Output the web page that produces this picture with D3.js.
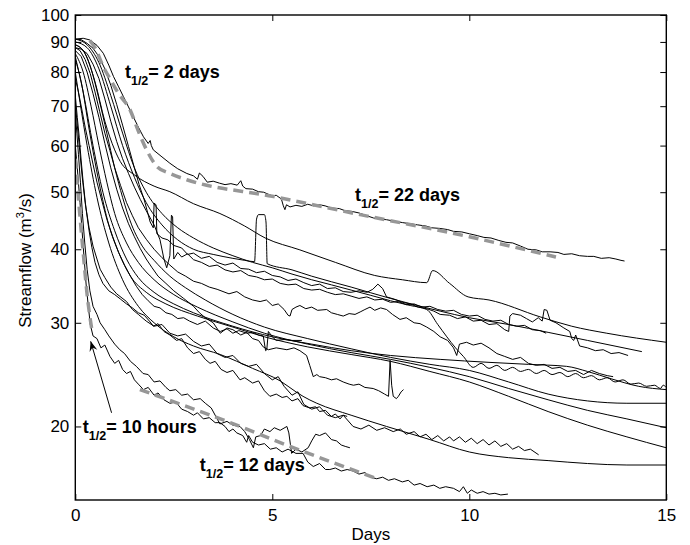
<!DOCTYPE html>
<html>
<head>
<meta charset="utf-8">
<script src="https://cdn.jsdelivr.net/npm/d3@7"></script>
<style>
  body { margin: 0; background: #fff; }
  svg { display: block; }
  text { font-family: "Liberation Sans", Arial, Helvetica, sans-serif; }
</style>
</head>
<body>
<svg id="chart" width="690" height="545"></svg>
<script>
// Axis ticks
const xTickValues = [0, 5, 10, 15];
const yTickValues = [20, 30, 40, 50, 60, 70, 80, 90, 100];

// Recession hydrographs: [day, streamflow m3/s]
const recA = [[0,91],[0.2,91.3],[0.37,90.7],[0.55,88.8],[0.71,86.1],[0.85,82.2],[0.97,78.6],[1.1,75.5],[1.22,72.7],[1.35,69.8],[1.47,67.2],[1.6,64.5],[1.73,62.1],[1.85,60.5],[1.9,61.2],[1.93,60.0],[1.98,59.0],[2.2,57.4],[2.4,56.0],[2.6,54.8],[2.83,53.8],[3.0,53.3],[3.1,52.6],[3.15,53.9],[3.24,53.2],[3.35,52.0],[3.5,52.2],[3.66,51.8],[3.8,51.5],[3.95,51.7],[4.11,51.4],[4.2,52.3],[4.25,51.2],[4.33,50.7],[4.5,50.6],[4.65,50.1],[4.78,50.0],[4.9,49.6],[5.0,49.3],[5.1,49.4],[5.23,48.7],[5.28,47.4],[5.32,46.7],[5.36,47.6],[5.45,47.2],[5.6,47.5],[5.75,47.3],[5.9,47.7],[6.05,47.4],[6.2,47.6],[6.34,47.4],[6.5,47.0],[6.7,46.9],[6.85,46.5],[7.01,46.4],[7.2,46.1],[7.4,45.6],[7.57,45.2],[7.75,45.0],[7.9,44.9],[8.13,44.6],[8.3,44.4],[8.5,44.2],[8.69,44.0],[8.9,43.8],[9.05,43.5],[9.25,43.4],[9.45,43.2],[9.6,42.9],[9.81,42.8],[10.0,42.5],[10.2,42.2],[10.37,41.9],[10.55,41.8],[10.75,41.4],[10.93,41.1],[11.1,41.0],[11.3,40.5],[11.49,40.0],[11.7,39.9],[11.85,39.6],[12.05,39.6],[12.25,39.5],[12.4,39.2],[12.6,39.3],[12.8,39.0],[13.0,38.9],[13.16,38.9],[13.35,38.6],[13.55,38.7],[13.72,38.5],[13.85,38.3],[13.94,38.2]];
const recB = [[0,89],[0.25,86],[0.5,77],[0.75,66],[1.0,59],[1.14,56.4],[1.5,53.5],[2.0,51.2],[2.4,50.1],[3.0,47.8],[3.67,46.0],[4.3,43.8],[4.82,41.8],[5.7,39.9],[6.6,38],[7.6,36.1],[8.3,35.5],[8.92,35.1],[9.07,36.8],[9.5,35],[9.97,33.2],[10.5,32.8],[11.8,30.7],[12.6,29.6],[13.49,28.8],[15,27.8]];
const recC = [[0,90],[0.3,88],[0.6,81],[0.9,70],[1.2,60],[1.5,53],[1.8,48],[2.2,44],[2.6,41.5],[3,40],[3.5,39.2],[4,38.6],[4.3,38.3],[4.55,38.1],[4.6,45.0],[4.65,45.8],[4.8,45.8],[4.84,44.5],[4.87,37.8],[5.5,36.9],[6,36],[7,34.5],[8,33],[9.26,31.4],[10,30.6],[11,29.8],[12,28.9],[13,28.0],[14.38,26.8]];
const recD = [[0,91],[0.15,90.8],[0.3,89.5],[0.45,87.8],[0.6,85],[0.75,81],[0.9,76],[1.05,70.5],[1.2,65],[1.35,59.8],[1.5,55],[1.62,51.5],[1.75,48.5],[1.9,44.5],[1.98,43.5],[2.0,47.9],[2.05,47.6],[2.07,42.5],[2.2,41.8],[2.35,41.5],[2.5,40.6],[2.7,40.2],[2.85,39.2],[3,39.4],[3.2,38.6],[3.4,38.9],[3.6,38.0],[3.8,37.6],[4.0,37.9],[4.2,37.1],[4.4,37.0],[4.6,36.5],[4.8,36.7],[5.0,36.1],[5.2,35.9],[5.4,35.4],[5.6,35.6],[5.8,35.1],[6.0,34.7],[6.2,34.9],[6.4,34.3],[6.6,34.4],[6.8,33.9],[7.0,33.8],[7.2,34.0],[7.4,33.8],[7.55,34.2],[7.68,34.9],[7.8,34.3],[7.9,33.2],[8.1,32.9],[8.3,32.5],[8.5,32.3],[8.7,31.9],[8.92,31.7],[9.1,31.4],[9.26,31.0],[9.5,30.9],[9.7,30.5],[9.9,30.7],[10.1,30.2],[10.3,30.3],[10.5,29.8],[10.7,29.9],[10.9,29.2],[11.0,29.0],[11.03,30.8],[11.1,31.1],[11.3,30.9],[11.45,30.5],[11.6,30.1],[11.75,30.6],[11.85,30.2],[11.9,31.6],[11.97,31.5],[12.05,30.3],[12.2,30.0],[12.4,29.4],[12.55,29.0],[12.6,28.2],[12.65,28.0],[12.7,28.6],[12.8,27.4],[13.0,27.2],[13.2,26.9],[13.4,27.0],[13.6,26.6],[13.8,26.7],[14.03,26.4]];
const recE = [[0,88],[0.15,87.5],[0.3,86],[0.45,82.5],[0.6,78],[0.75,72],[0.9,66],[1.05,61],[1.2,57],[1.35,53.8],[1.5,51],[1.65,48.6],[1.8,46.5],[2.0,44],[2.15,41.5],[2.25,38.5],[2.32,37.2],[2.4,39],[2.44,45.7],[2.47,45.4],[2.5,38.5],[2.6,39.5],[2.7,38.8],[2.85,39.3],[3.0,38.4],[3.2,38.0],[3.4,37.4],[3.6,37.6],[3.8,36.9],[4.0,36.6],[4.2,36.8],[4.4,36.1],[4.6,35.9],[4.8,35.5],[5.0,35.6],[5.2,35.0],[5.4,34.8],[5.6,34.9],[5.8,34.3],[6.0,34.1],[6.2,34.2],[6.4,33.8],[6.6,33.5],[6.8,33.6],[7.0,33.3],[7.2,33.0],[7.4,33.2],[7.6,32.8],[7.8,32.9],[8.0,32.5],[8.2,32.6],[8.4,32.2],[8.6,32.3],[8.8,31.9],[9.0,32.0],[9.2,31.6],[9.4,31.4],[9.6,31.5],[9.8,31.0],[10.0,30.8],[10.2,30.9],[10.4,30.4],[10.6,30.2],[10.8,30.3],[11.0,29.8],[11.2,29.6],[11.4,29.7],[11.6,29.2],[11.8,29.1],[11.95,28.8]];
const recF = [[0,91],[0.3,89],[0.6,83],[0.9,73],[1.2,63],[1.5,55],[1.8,50],[2.2,46],[2.6,43.5],[3,41.8],[3.5,40.2],[4,39],[4.5,38],[5,37.2],[5.5,36.3],[6,35.5],[6.5,34.8],[7,34.1],[7.5,33.4],[8,32.7],[8.5,32.1],[8.92,31.6],[9.2,29.8],[9.43,28.4],[9.65,27.2],[9.85,26.3],[10.1,25.2],[10.3,25.6],[10.5,25.1],[10.7,25.4],[10.9,24.9],[11.1,25.2],[11.3,24.8],[11.5,25.0],[11.7,24.6],[11.9,24.9],[12.1,24.5],[12.3,24.7],[12.5,24.3],[12.7,24.6],[12.9,24.2],[13.1,24.4],[13.3,24.0],[13.5,24.2],[13.7,23.8],[13.9,24.0],[14.1,23.6],[14.3,23.7],[14.5,23.4],[14.7,23.5],[14.85,23.2],[14.92,23.5],[15,23.3]];
const recF2 = [[0,88],[0.12,87],[0.25,84],[0.38,79.5],[0.5,74],[0.62,68.5],[0.75,63],[0.88,58.8],[1.0,55],[1.15,51.3],[1.3,48],[1.45,45.6],[1.6,43.5],[1.8,41.6],[2.0,40],[2.2,38.7],[2.4,37.6],[2.6,36.6],[2.8,36],[3.0,35.3],[3.2,35],[3.4,34.5],[3.6,34.2],[3.9,33.6],[4.1,33.9],[4.3,33.2],[4.5,32.8],[4.69,32.6],[4.85,32.8],[5.0,32.1],[5.15,32.3],[5.3,31.6],[5.4,30.9],[5.45,30.8],[5.5,31.6],[5.6,31.9],[5.7,32.1],[5.85,31.7],[6.0,31.9],[6.15,31.5],[6.38,31.6],[6.5,31.2],[6.65,31.0],[6.8,30.8],[6.95,31.1],[7.1,31.0],[7.23,31.3],[7.35,31.6],[7.48,31.9],[7.6,31.5],[7.75,31.8],[7.9,31.6],[8.05,31.0],[8.24,30.4],[8.4,30.6],[8.6,30.0],[8.75,29.9],[8.92,29.5],[9.1,29.0],[9.26,28.4],[9.45,28.0],[9.6,27.2],[9.68,26.4],[9.75,27.6],[9.93,27.8],[10.1,27.5],[10.3,27.7],[10.5,27.2],[10.7,26.6],[10.9,26.3],[11.1,26.0],[11.3,26.2],[11.5,25.6],[11.7,25.4],[11.9,25.5],[12.1,25.1],[12.3,25.2],[12.5,24.8],[12.7,24.9],[12.9,24.5],[13.1,24.9],[13.3,24.6],[13.5,24.4],[13.65,24.3]];
const recG = [[0,85],[0.2,74],[0.45,60],[0.7,50],[1.0,43],[1.3,38.5],[1.6,35.8],[2,33.8],[2.5,32.3],[3,31.2],[4,29.6],[5,28.4],[6,27.6],[7,26.9],[8,26.4],[9.26,26.0],[10.5,25.7],[11.5,25.5],[12.47,25.3],[13,24.8],[13.6,24.1],[14.3,23.4],[15,23.1]];
const recH = [[0,89],[0.2,87],[0.4,81],[0.6,72],[0.8,63],[1.0,55],[1.2,49],[1.43,44],[1.7,40.5],[2.0,38.3],[2.4,36],[2.8,34.4],[3.3,32.8],[4,31.0],[4.8,29.5],[5.9,28.2],[7,27.1],[8,26.2],[9,25.5],[10,24.9],[11,23.8],[12,22.7],[13,22.1],[14,21.9],[15,21.9]];
const recI = [[0,86],[0.2,80],[0.4,70],[0.6,60],[0.8,52],[1.0,46],[1.3,41],[1.6,38],[2,35.5],[2.5,33.5],[3.1,31.9],[4,30.1],[4.8,28.8],[5.9,27.6],[7,26.7],[8,26],[9,25.2],[10,24.3],[11,23.2],[12,22.2],[13,21.3],[14,20.6],[15,19.9]];
const recJ = [[0,84],[0.15,77],[0.35,64],[0.6,52],[0.85,44],[1.1,39.5],[1.4,36],[1.8,33.8],[2.3,32.3],[3.1,30.8],[4,29.5],[4.8,28.4],[5.9,27.3],[7,26.5],[8,25.8],[9,24.8],[10,23.8],[11,22.5],[12,21.2],[13,20.1],[14,19.2],[15,18.4]];
const recK = [[0,80],[0.12,71],[0.3,60],[0.55,49],[0.85,41],[1.2,35.5],[1.6,32],[2,30],[2.5,28.4],[3,27.4],[3.68,26.5],[4.5,25.1],[5.2,23.9],[5.6,22.9],[5.78,22.5],[6.13,21.9],[7,20.9],[7.9,20.0],[9,19.0],[10,18.1],[11,17.7],[12,17.5],[13,17.3],[14,17.2],[15,17.2]];
const recL = [[0,71],[0.05,65],[0.1,60],[0.17,53.5],[0.25,48],[0.35,43.5],[0.45,40.5],[0.55,38.5],[0.63,37],[0.75,35.8],[0.9,34.5],[1.05,33.6],[1.3,32.6],[1.45,31.6],[1.6,31.0],[1.8,30.2],[2.0,29.6],[2.2,29.8],[2.4,28.8],[2.6,28.5],[2.8,28.7],[3.0,27.9],[3.2,27.4],[3.4,27.6],[3.6,26.6],[3.8,26.2],[4.0,26.4],[4.2,25.6],[4.4,25.3],[4.6,25.5],[4.8,24.6],[5.0,24.0],[5.15,24.3],[5.3,23.4],[5.5,22.6],[5.65,22.9],[5.8,21.8],[6.0,21.4],[6.2,21.6],[6.4,20.9],[6.6,20.7],[6.8,20.9],[7.05,20.0],[7.25,19.8],[7.45,20.1],[7.65,19.7],[7.85,19.9],[8.07,19.6],[8.25,19.8],[8.4,19.4],[8.6,19.6],[8.75,19.2],[8.9,19.4],[9.05,19.0],[9.2,19.3],[9.35,18.9],[9.5,19.2],[9.6,18.9],[9.75,19.2],[9.9,18.8],[10.05,19.1],[10.2,18.7],[10.35,19.0],[10.5,18.6],[10.65,18.9],[10.8,18.5],[10.95,18.7],[11.1,18.3],[11.25,18.5],[11.4,18.2],[11.55,18.3],[11.76,17.9]];
const recM = [[0,60],[0.05,55],[0.12,48],[0.2,40.5],[0.28,34.5],[0.38,29.8],[0.45,28.5],[0.55,28.2],[0.65,27.2],[0.75,27.5],[0.88,26.3],[1.0,25.6],[1.1,25.9],[1.2,25.0],[1.3,24.6],[1.4,24.8],[1.5,24.0],[1.6,23.6],[1.73,23.1],[1.85,23.3],[2.0,22.6],[2.1,22.8],[2.25,22.2],[2.4,21.9],[2.55,22.0],[2.7,21.4],[2.85,21.2],[3.0,20.9],[3.1,21.1],[3.25,20.6],[3.4,20.7],[3.55,20.3],[3.67,20.3],[3.8,20.0],[3.9,19.6],[4.0,19.8],[4.1,19.5],[4.25,19.3],[4.35,18.8],[4.4,19.3],[4.5,18.8],[4.65,18.6],[4.8,18.7],[4.95,18.3],[5.1,18.4],[5.25,18.1],[5.4,18.3],[5.6,18.0],[5.78,18.0],[5.9,17.4],[6.04,17.1],[6.2,17.3],[6.35,16.9],[6.46,16.9],[6.6,17.0],[6.75,16.8],[6.9,16.9],[7.05,16.8],[7.2,16.6],[7.35,16.7],[7.5,16.4],[7.65,16.3],[7.8,16.4],[7.95,16.2],[8.1,16.3],[8.3,16.1],[8.45,16.2],[8.6,15.9],[8.75,16.0],[8.93,15.8],[9.1,15.9],[9.25,15.7],[9.4,15.8],[9.6,15.7],[9.75,15.5],[9.85,15.8],[9.95,15.4],[10.05,15.6],[10.2,15.4],[10.35,15.5],[10.5,15.35],[10.65,15.4],[10.8,15.3],[10.98,15.35]];
const recN = [[0,73],[0.05,67],[0.1,62],[0.15,56.5],[0.2,52],[0.27,47],[0.35,43],[0.42,40.3],[0.5,38],[0.6,36.2],[0.7,35],[0.85,34],[1.0,33.5],[1.15,32.9],[1.3,32.3],[1.45,31.8],[1.6,31.2],[1.75,30.9],[1.9,30.1],[1.98,29.6],[2.1,29.9],[2.25,29.0],[2.4,28.6],[2.57,28.0],[2.7,28.2],[2.85,27.2],[3.0,26.6],[3.15,26.8],[3.3,26.0],[3.42,25.6],[3.55,25.8],[3.7,25.0],[3.85,24.7],[4.0,24.9],[4.18,24.0],[4.3,24.2],[4.5,23.7],[4.65,23.9],[4.8,23.0],[4.94,22.5],[5.1,22.7],[5.25,22.4],[5.37,22.5],[5.5,22.1],[5.65,22.3],[5.78,21.7],[5.95,21.5],[6.1,21.6],[6.2,21.2],[6.35,21.3],[6.5,20.8],[6.6,21.0],[6.72,20.6],[6.8,20.9],[6.9,20.8]];
const recO = [[0,68],[0.04,63],[0.08,58],[0.13,52],[0.18,46],[0.24,41],[0.3,37],[0.37,34],[0.45,32],[0.55,31],[0.63,30],[0.75,29.2],[0.85,28.5],[1.0,27.6],[1.13,27.0],[1.25,26.6],[1.4,25.8],[1.55,25.3],[1.72,24.6],[1.85,24.5],[2.0,23.8],[2.15,23.9],[2.3,23.3],[2.4,23.0],[2.55,23.1],[2.7,22.6],[2.85,22.7],[3.0,22.2],[3.17,22.3],[3.3,21.9],[3.45,21.5],[3.67,20.2],[3.85,20.4],[4.0,20.1],[4.18,20.0],[4.3,19.6],[4.42,19.0],[4.52,18.4],[4.58,19.2],[4.7,19.3],[4.8,19.8],[4.94,19.6],[5.05,19.9],[5.2,19.7],[5.37,20.0],[5.42,19.5],[5.49,18.0],[5.6,18.3],[5.75,18.1],[5.91,18.4],[6.0,18.9],[6.1,19.4],[6.2,19.3],[6.35,19.5],[6.5,19.0],[6.63,18.9],[6.75,18.6],[6.85,18.5],[6.97,18.4]];
const recP = [[0,78],[0.08,74],[0.15,70],[0.25,64.5],[0.35,60],[0.45,55.8],[0.55,52],[0.68,48.2],[0.8,45],[0.95,42],[1.1,39.5],[1.25,37.6],[1.4,36],[1.55,34.6],[1.7,33.5],[1.85,32.7],[2.0,32],[2.15,31.8],[2.3,31.2],[2.45,31.0],[2.6,30.5],[2.75,30.6],[2.9,30.2],[3.1,29.8],[3.3,30.2],[3.5,29.4],[3.68,29.0],[3.85,29.3],[4.0,28.8],[4.15,29.1],[4.36,28.8],[4.5,28.9],[4.65,28.6],[4.77,28.5],[4.83,26.9],[4.86,27.0],[4.9,29.0],[5.0,28.4],[5.1,28.0],[5.3,28.1],[5.5,28.0],[5.75,28.0]];
const recQ = [[0,87],[0.15,85],[0.3,80],[0.45,73.5],[0.6,67],[0.75,60.5],[0.9,55],[1.05,50.6],[1.2,47],[1.35,44.2],[1.5,42],[1.65,40.1],[1.8,38.5],[1.95,37.2],[2.1,36],[2.3,35],[2.5,34],[2.75,33],[3.0,32],[3.15,31.2],[3.3,30.6],[3.5,30.0],[3.68,28.8],[3.85,29.4],[4.0,29.2],[4.2,28.6],[4.35,28.9],[4.5,28.2],[4.65,28.0],[4.77,27.3],[4.9,27.0],[5.1,27.2],[5.37,27.0],[5.55,27.2],[5.7,26.9],[5.87,26.4],[5.95,25.4],[6.04,24.3],[6.13,24.5],[6.2,24.3],[6.35,24.2],[6.5,24.0],[6.63,24.1],[6.8,23.8],[6.95,23.6],[7.06,23.5],[7.2,23.6],[7.35,23.3],[7.56,23.2],[7.7,23.0],[7.85,22.7],[7.95,22.5],[7.99,25.9],[8.03,23.5],[8.07,22.5],[8.15,22.3],[8.2,22.5],[8.27,22.9],[8.33,23.1]];

// Records stored as smoothed series vs. raw noisy series
const smoothRecessions = [recB, recC, recF, recG, recH, recI, recJ, recK];
const noisyRecessions = [recA, recD, recE, recF2, recL, recM, recN, recO, recP, recQ];

// Fitted recessions (dashed)
const fitTop = [[0.37,90.5],[0.5,88],[0.71,81.7],[0.9,77.5],[1.1,73.5],[1.39,69],[1.6,63.5],[1.81,59],[2.07,55.3],[2.4,53.8],[2.83,52.5],[5,49.2],[7.23,45.8],[10,42],[12.2,38.8]];
const fitBottomFast = [[0,57],[0.1,47],[0.2,39.5],[0.3,33.5],[0.42,29.2]];
const fitBottomSlow = [[1.64,23.1],[3.93,20.3],[5.45,18.5],[7.61,16.35]];
const fits = [fitTop, fitBottomFast, fitBottomSlow];

// Half-life labels: [day, flow, text after subscript]
const halfLifeLabels = [
  [1.26, 78.2, "= 2 days"],
  [7.1, 48.4, "= 22 days"],
  [0.19, 19.5, "= 10 hours"],
  [3.16, 16.8, "= 12 days"]
];
// Arrow from the 10-hour label to the fast-decay segment: [tail, tip]
const arrowPts = [[0.92, 21.1], [0.39, 27.9]];

const svg = d3.select("#chart");
const x = d3.scaleLinear().domain([0, 15]).range([75.3, 666.3]);
const y = d3.scaleLog().domain([15, 100]).range([500, 15]);

svg.append("defs").append("clipPath").attr("id", "plot-clip")
  .append("rect").attr("x", x(0)).attr("y", y(100))
  .attr("width", x(15) - x(0)).attr("height", y(15) - y(100));

const smoothLine = d3.line().x(d => x(d[0])).y(d => y(d[1])).curve(d3.curveMonotoneX);
const rawLine = d3.line().x(d => x(d[0])).y(d => y(d[1])).curve(d3.curveLinear);

const plot = svg.append("g").attr("clip-path", "url(#plot-clip)");
plot.selectAll("path.smooth").data(smoothRecessions).join("path")
  .attr("class", "smooth")
  .attr("d", smoothLine)
  .attr("fill", "none").attr("stroke", "#000").attr("stroke-width", 1);
plot.selectAll("path.raw").data(noisyRecessions).join("path")
  .attr("class", "raw")
  .attr("d", rawLine)
  .attr("fill", "none").attr("stroke", "#000").attr("stroke-width", 1)
  .attr("stroke-linejoin", "miter");

plot.selectAll("path.fit").data(fits).join("path")
  .attr("class", "fit")
  .attr("d", smoothLine)
  .attr("fill", "none")
  .attr("stroke", "#979797")
  .attr("stroke-width", 3.5)
  .attr("stroke-dasharray", "10,6");

// Axes (inward ticks on all four sides)
const fontSize = 17;
function styleAxis(g) {
  g.select(".domain").remove();
  g.selectAll(".tick line").attr("stroke", "#000").attr("stroke-width", 1);
  g.selectAll("text").attr("font-size", fontSize).attr("fill", "#000")
    .attr("font-family", '"Liberation Sans", Arial, sans-serif');
}
svg.append("g").attr("transform", `translate(${x(0)},0)`)
  .call(d3.axisLeft(y).tickValues(yTickValues).tickFormat(d3.format("d")).tickSize(-6).tickPadding(6))
  .call(styleAxis);
svg.append("g").attr("transform", `translate(${x(15)},0)`)
  .call(d3.axisRight(y).tickValues(yTickValues).tickFormat("").tickSize(-6))
  .call(styleAxis);
svg.append("g").attr("transform", `translate(0,${y(15)})`)
  .call(d3.axisBottom(x).tickValues(xTickValues).tickFormat(d3.format("d")).tickSize(-6).tickPadding(9))
  .call(styleAxis);
svg.append("g").attr("transform", `translate(0,${y(100)})`)
  .call(d3.axisTop(x).tickValues(xTickValues).tickFormat("").tickSize(-6))
  .call(styleAxis);

svg.append("rect")
  .attr("x", x(0)).attr("y", y(100))
  .attr("width", x(15) - x(0)).attr("height", y(15) - y(100))
  .attr("fill", "none").attr("stroke", "#000").attr("stroke-width", 1.4);

// Axis titles
svg.append("text")
  .attr("x", (x(0) + x(15)) / 2).attr("y", 540)
  .attr("text-anchor", "middle").attr("font-size", fontSize)
  .text("Days");

const yTitle = svg.append("text")
  .attr("transform", `translate(31,${(y(15) + y(100)) / 2 + 3}) rotate(-90)`)
  .attr("text-anchor", "middle").attr("font-size", fontSize);
yTitle.append("tspan").text("Streamflow (m");
yTitle.append("tspan").attr("font-size", 11).attr("dy", -7).text("3");
yTitle.append("tspan").attr("dy", 7).text("/s)");

// Half-life annotations
const ann = svg.selectAll("text.hl").data(halfLifeLabels).join("text")
  .attr("class", "hl")
  .attr("x", d => x(d[0])).attr("y", d => y(d[1]))
  .attr("font-size", 18).attr("font-weight", "bold").attr("fill", "#000");
ann.append("tspan").text("t");
ann.append("tspan").attr("font-size", 12.5).attr("dy", 7).text("1/2");
ann.append("tspan").attr("dy", -7).text(d => d[2]);

// Arrow
const tail = [x(arrowPts[0][0]), y(arrowPts[0][1])];
const tip = [x(arrowPts[1][0]), y(arrowPts[1][1])];
svg.append("line")
  .attr("x1", tail[0]).attr("y1", tail[1]).attr("x2", tip[0]).attr("y2", tip[1])
  .attr("stroke", "#000").attr("stroke-width", 1);
const ang = Math.atan2(tip[1] - tail[1], tip[0] - tail[0]);
const hl = 10, hw = 4;
const bx = tip[0] - hl * Math.cos(ang), by = tip[1] - hl * Math.sin(ang);
const notch = 0.35;
const nx = tip[0] - hl * (1 - notch) * Math.cos(ang), ny = tip[1] - hl * (1 - notch) * Math.sin(ang);
svg.append("path")
  .attr("d", `M${tip[0]},${tip[1]}L${bx + hw * Math.sin(ang)},${by - hw * Math.cos(ang)}L${nx},${ny}L${bx - hw * Math.sin(ang)},${by + hw * Math.cos(ang)}Z`)
  .attr("fill", "#000");
</script>
</body>
</html>
